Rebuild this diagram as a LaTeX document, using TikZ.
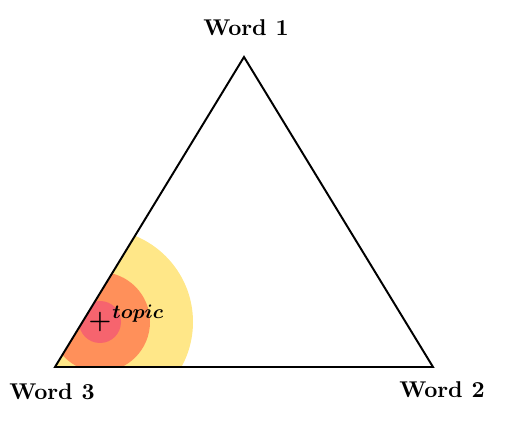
\documentclass[tikz,border=0pt]{standalone}
\usepackage{tikz}
\usepackage{xcolor}
\usepackage{bm}
\usetikzlibrary{positioning,calc}
\definecolor{zoneouter}{RGB}{255,231,136}
\definecolor{zonemid}{RGB}{255,144,90}
\definecolor{zoneinner}{RGB}{246,100,110}

\begin{document}
\begin{tikzpicture}[x=0.46pt, y=-0.46pt,
    wordlabel/.style={font=\fontsize{10.5}{12}\selectfont\bfseries},
    edge/.style={draw, line width=0.9pt, line join=miter}]
    \useasboundingbox (0,0) rectangle (532,442);

    \coordinate (w1) at (244,57);
    \coordinate (w2) at (433,367);
    \coordinate (w3) at (55,367);
    \coordinate (focus) at (100,322);

    \begin{scope}
        \clip (w1) -- (w2) -- (w3) -- cycle;
        \fill [zoneouter] (focus) circle (93);
        \fill [zonemid] (focus) circle (50);
        \fill [zoneinner] (focus) circle (21);
    \end{scope}

    \draw [edge] (w1) -- (w2) -- (w3) -- cycle;

    \node (label1) [wordlabel] at (246,28) {Word 1};
    \node (label2) [wordlabel] at (442,390) {Word 2};
    \node (label3) [wordlabel] at (52,392) {Word 3};

    \node (cross) [inner sep=0pt, font=\large] at (focus) {$\bm{+}$};
    \node (topiclabel) [inner sep=0pt, anchor=base west,
        font=\fontsize{8.8}{10}\selectfont] at (112,319) {$\bm{topic}$};
\end{tikzpicture}
\end{document}
